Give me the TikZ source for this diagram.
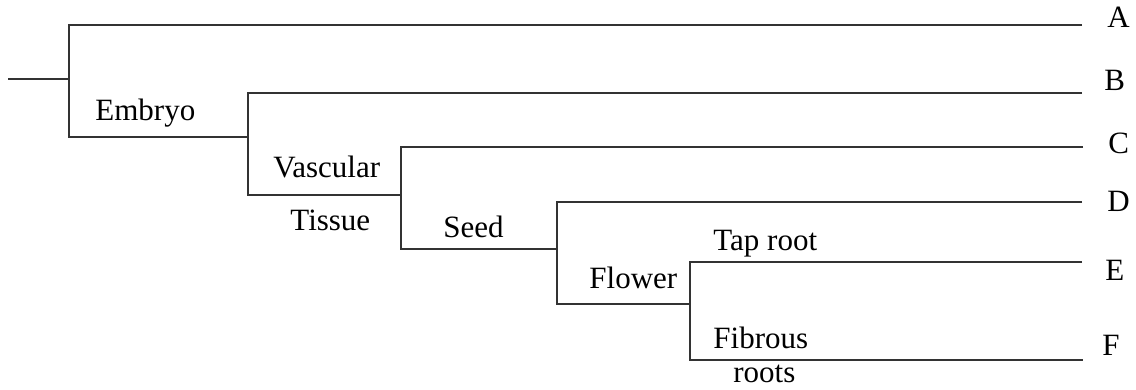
\documentclass[tikz,border=0pt]{standalone}
\usepackage{fontspec}
\setmainfont{Liberation Serif}
\usepackage{tikz}

\begin{document}
\begin{tikzpicture}[x=0.5pt,y=-0.5pt,
      br/.style={draw=black!80,line width=0.7pt},
      lbl/.style={anchor=base west,inner sep=0pt,font=\fontsize{15.5}{18}\selectfont}]
    \useasboundingbox (0,0) rectangle (1136,390);
    % branch points: u = upper end, d = lower end of each bracket
    \coordinate (n0) at (8,79);
    \coordinate (u1) at (69,25);   \coordinate (d1) at (69,137);
    \coordinate (u2) at (248,93);  \coordinate (d2) at (248,195);
    \coordinate (u3) at (401,147); \coordinate (d3) at (401,249);
    \coordinate (u4) at (557,202); \coordinate (d4) at (557,304);
    \coordinate (u5) at (690,262); \coordinate (d5) at (690,360);
    % line ends at the taxa
    \coordinate (eA) at (1082,25);  \coordinate (eB) at (1082,93);
    \coordinate (eC) at (1083,147); \coordinate (eD) at (1082,202);
    \coordinate (eE) at (1082,262); \coordinate (eF) at (1083,360);
    \node[lbl] (tA) at (1107,28) {A};
    \node[lbl] (tB) at (1104,91) {B};
    \node[lbl] (tC) at (1108,154) {C};
    \node[lbl] (tD) at (1107,212) {D};
    \node[lbl] (tE) at (1105,280) {E};
    \node[lbl] (tF) at (1102,355) {F};
    \draw[br] (n0) -- (u1 |- n0);
    \draw[br] (eA) -- (u1) -- (d1) -- (d1 -| u2);
    \draw[br] (eB) -- (u2) -- (d2) -- (d2 -| u3);
    \draw[br] (eC) -- (u3) -- (d3) -- (d3 -| u4);
    \draw[br] (eD) -- (u4) -- (d4) -- (d4 -| u5);
    \draw[br] (eE) -- (u5) -- (d5) -- (eF);
    % characters on the branches
    \node[lbl] (emb) at (95,121) {Embryo};
    \node[lbl] (vasc) at (273,177) {Vascular};
    \node[lbl] (tiss) at (290,230) {Tissue};
    \node[lbl] (seed) at (443,237) {Seed};
    \node[lbl] (flw) at (589,288) {Flower};
    \node[lbl] (tap) at (713,250) {Tap root};
    \node[lbl] (fib) at (713,348) {Fibrous};
    \node[lbl] (rts) at (733,382) {roots};
  \end{tikzpicture}
\end{document}
